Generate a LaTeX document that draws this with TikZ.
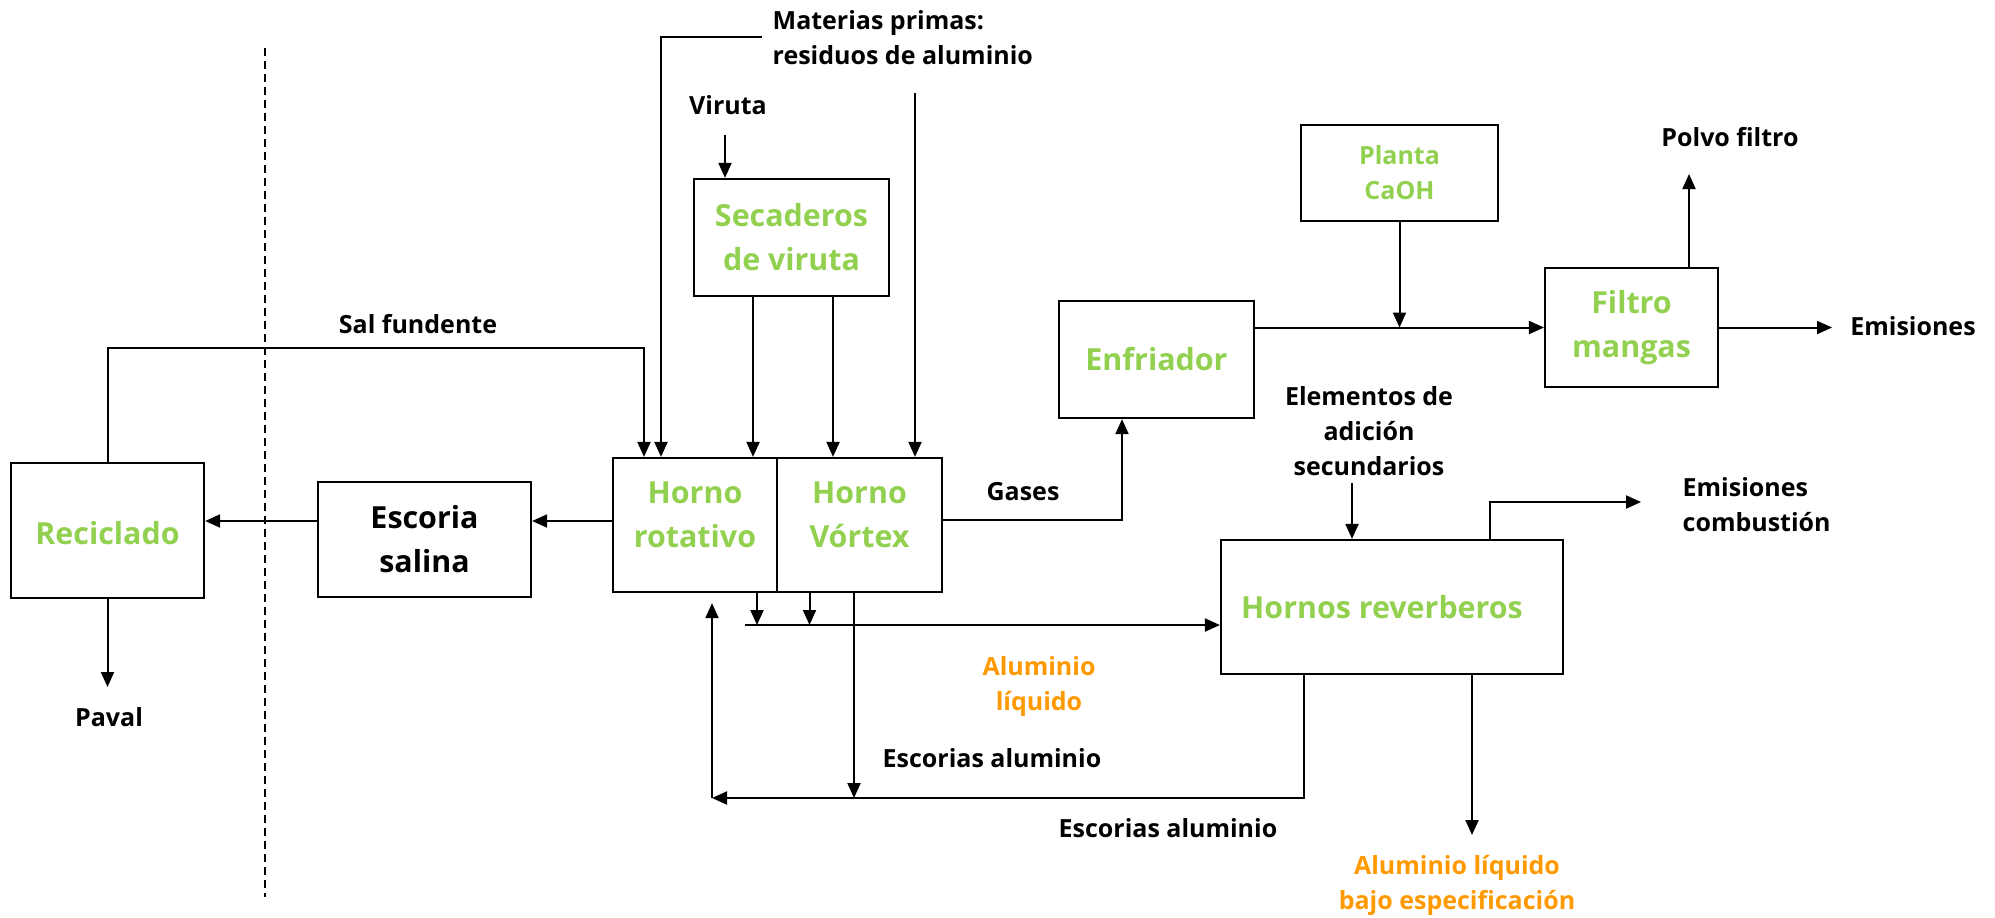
\documentclass[tikz,border=0pt]{standalone}
\usepackage{fontspec}
\setmainfont{Open Sans}
\usetikzlibrary{arrows.meta}
\definecolor{verde}{HTML}{92D050}
\definecolor{naranja}{HTML}{FF9900}

\begin{document}
\begin{tikzpicture}[x=0.5pt,y=-0.5pt,line width=1pt,
		caja/.style={draw,line width=1.1pt,align=center,text=verde,
			font=\fontsize{15.2}{22}\selectfont\bfseries},
		etiq/.style={align=center,font=\fontsize{12.5}{17.5}\selectfont\bfseries},
		flecha/.style={-{Triangle[length=7.5pt,width=6.5pt]}}]
		\useasboundingbox (0,0) rectangle (1995,917);
		\draw[dash pattern=on 4pt off 2.5pt,line width=0.8pt] (265,48) -- (265,897);
		% cajas
		\node[caja,text height=14pt,minimum width=96.5pt,minimum height=67.5pt] (rec) at (107.5,530.5) {Reciclado};
		\node[caja,text=black,minimum width=106.5pt,minimum height=57.5pt] (esc) at (424.5,539.5) {Escoria\\salina};
		\node[caja,text depth=10pt,minimum width=82pt,minimum height=67pt] (hrot) at (695,525) {Horno\\rotativo};
		\node[caja,text depth=10pt,minimum width=82.5pt,minimum height=67pt] (hvor) at (859.5,525) {Horno\\Vórtex};
		\node[caja,minimum width=97.5pt,minimum height=58.5pt] (sec) at (791.5,237.5) {Secaderos\\de viruta};
		\node[caja,minimum width=97.5pt,minimum height=58.5pt] (enf) at (1156.5,359.5) {Enfriador};
		\node[caja,font=\fontsize{12.5}{17.5}\selectfont\bfseries,minimum width=98.5pt,minimum height=48pt] (pla) at (1399.5,173) {Planta\\CaOH};
		\node[caja,minimum width=86.5pt,minimum height=59.5pt] (fil) at (1631.5,327.5) {Filtro\\mangas};
		\node[caja,minimum width=171pt,minimum height=67pt] (hrev) at (1392,607) {Hornos reverberos\kern10pt};
		% textos
		\node[etiq,anchor=west,align=left] (mat) at (765,38) {Materias primas:\\residuos de aluminio};
		\node[etiq] (vru) at (728,105) {Viruta};
		\node[etiq] (salf) at (418,324) {Sal fundente};
		\node[etiq] (pav) at (109,717) {Paval};
		\node[etiq] (gse) at (1023,492) {Gases};
		\node[etiq] (ele) at (1369,431) {Elementos de\\adición\\secundarios};
		\node[etiq] (pol) at (1730,137) {Polvo filtro};
		\node[etiq] (emi) at (1913,326) {Emisiones};
		\node[etiq,anchor=west,align=left] (emc) at (1675,505) {Emisiones\\combustión};
		\node[etiq,text=naranja] (all) at (1039,686) {Aluminio\\líquido};
		\node[etiq] (esa1) at (992,758) {Escorias aluminio};
		\node[etiq] (esa2) at (1168,828) {Escorias aluminio};
		\node[etiq,text=naranja] (abe) at (1457,885) {Aluminio líquido\\bajo especificación};
		% puntos libres
		\coordinate (mp1) at (762,37);
		\coordinate (mp2) at (915,93);
		\coordinate (vir) at (725,135);
		\coordinate (sal) at (644,348);
		\coordinate (pv) at (107.5,687);
		\coordinate (gas) at (1122,520);
		\coordinate (pf) at (1689,174);
		\coordinate (em) at (1832,329);
		\coordinate (ea) at (1352,483);
		\coordinate (ec) at (1641,502);
		\coordinate (ab) at (1472,835);
		\coordinate (al) at (745,625);
		\coordinate (es) at (712,798);
		% entradas a los hornos
		\draw[flecha] (mp1) -| ([xshift=-17pt]hrot.north);
		\draw[flecha] (mp2) -- (mp2 |- hvor.north);
		\draw[flecha] (vir) -- (vir |- sec.north);
		\draw[flecha] ([xshift=-19.25pt]sec.south) -- ([xshift=-19.25pt]sec.south |- hrot.north);
		\draw[flecha] ([xshift=20.75pt]sec.south) -- ([xshift=20.75pt]sec.south |- hvor.north);
		\draw[flecha] (rec.north) |- (sal) -- (sal |- hrot.north);
		% escoria salina
		\draw[flecha] ([yshift=2pt]hrot.west) -- ([yshift=2pt]hrot.west -| esc.east);
		\draw[flecha] ([yshift=2pt]hrot.west -| esc.west) -- ([yshift=2pt]hrot.west -| rec.east);
		\draw[flecha] (rec.south) -- (pv);
		% gases
		\draw[flecha] (hvor.east |- gas) -| (enf.south -| gas);
		\draw[flecha] (enf.east |- fil.west) -- (fil.west);
		\draw[flecha] (pla.south) -- (pla.south |- fil.west);
		\draw[flecha] (fil.north -| pf) -- (pf);
		\draw[flecha] (fil.east) -- (fil.east -| em);
		% hornos reverberos
		\draw[flecha] (ea) -- (ea |- hrev.north);
		\draw[flecha] ([xshift=49pt]hrev.north) |- (ec);
		\draw[flecha] (hrev.south -| ab) -- (ab);
		\draw[flecha] (al) -- (al -| hrev.west);
		\draw[flecha] ([xshift=31pt]hrot.south) -- ([xshift=31pt]hrot.south |- al);
		\draw[flecha] ([xshift=-25pt]hvor.south) -- ([xshift=-25pt]hvor.south |- al);
		% escorias
		\draw[flecha] ([xshift=-2.75pt]hvor.south) -- ([xshift=-2.75pt]hvor.south |- es);
		\draw[flecha] ([xshift=-44pt]hrev.south) |- (es);
		\draw[flecha] (es) -- ([yshift=-5pt]es |- hrot.south);
	\end{tikzpicture}
\end{document}
